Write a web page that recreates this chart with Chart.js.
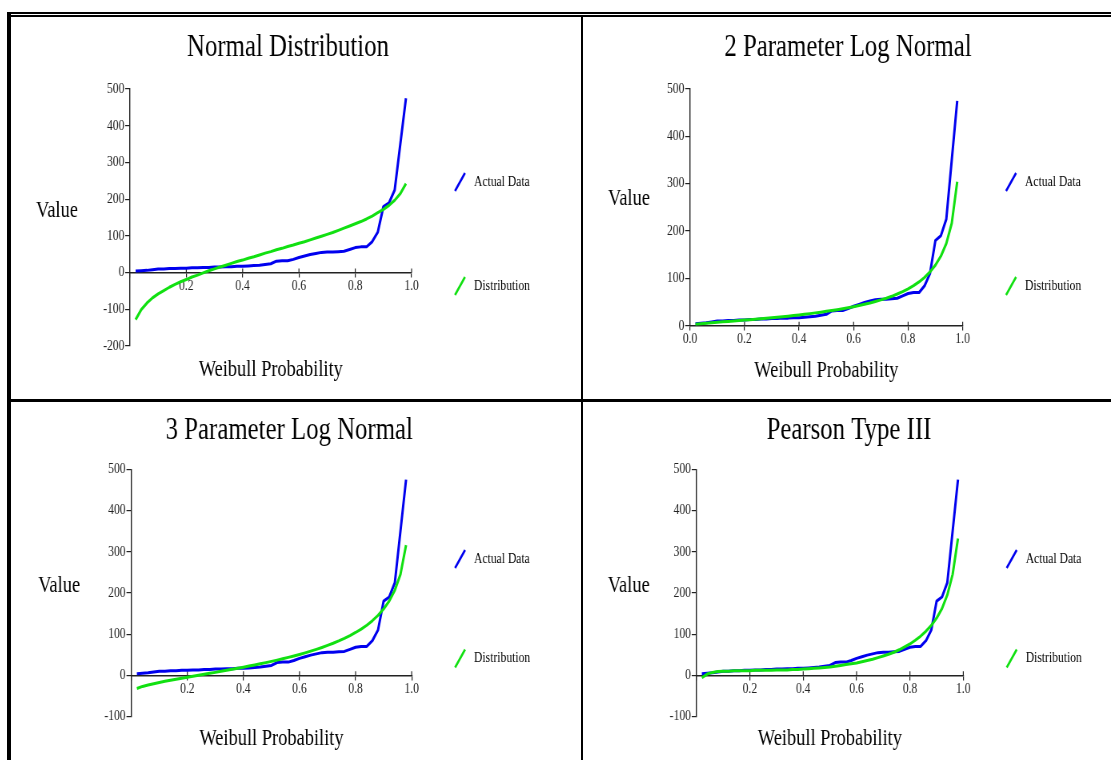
<!DOCTYPE html>
<html>
<head>
<meta charset="utf-8">
<script src="https://cdn.jsdelivr.net/npm/chart.js@4.4.1/dist/chart.umd.min.js"></script>
<style>
  html, body { margin: 0; padding: 0; background: #fff; width: 1111px; height: 760px; overflow: hidden; }
  .panel { position: absolute; overflow: hidden; }
  /* the charts are drawn wide and squeezed, the original was a narrowed image */
  .panel canvas { position: absolute; left: 0; top: 0; transform: scaleX(0.8); transform-origin: 0 0; }
  .rule { position: absolute; background: #000; z-index: 2; }
</style>
</head>
<body>
<div class="rule" style="left:7px;top:12px;width:1104px;height:2px"></div>
<div class="rule" style="left:7px;top:15px;width:1104px;height:2px"></div>
<div class="rule" style="left:7px;top:12px;width:4px;height:748px"></div>
<div class="rule" style="left:580.7px;top:17px;width:2.6px;height:743px"></div>
<div class="rule" style="left:11px;top:399.3px;width:1100px;height:2.4px"></div>

<div class="panel" style="left:10px;top:17px;width:571px;height:382px"><canvas id="normal" width="714" height="382"></canvas></div>
<div class="panel" style="left:583px;top:17px;width:528px;height:382px"><canvas id="logn2" width="660" height="382"></canvas></div>
<div class="panel" style="left:10px;top:401px;width:571px;height:359px"><canvas id="logn3" width="714" height="359"></canvas></div>
<div class="panel" style="left:583px;top:401px;width:528px;height:359px"><canvas id="pearson" width="660" height="359"></canvas></div>

<script>
// Weibull plotting positions i/(n+1), n = 49
var probs = [0.02, 0.04, 0.06, 0.08, 0.10, 0.12, 0.14, 0.16, 0.18, 0.20,
             0.22, 0.24, 0.26, 0.28, 0.30, 0.32, 0.34, 0.36, 0.38, 0.40,
             0.42, 0.44, 0.46, 0.48, 0.50, 0.52, 0.54, 0.56, 0.58, 0.60,
             0.62, 0.64, 0.66, 0.68, 0.70, 0.72, 0.74, 0.76, 0.78, 0.80,
             0.82, 0.84, 0.86, 0.88, 0.90, 0.92, 0.94, 0.96, 0.98];

var actualData = [4, 5, 6, 8, 10, 10, 11, 11, 12, 12,
                  13, 13, 14, 14, 15, 15, 16, 16, 17, 17,
                  18, 19, 20, 22, 24, 31, 32, 32, 36, 41,
                  45, 49, 52, 55, 56, 56, 57, 58, 63, 68,
                  70, 70, 84, 110, 180, 190, 225, 350, 475];

var normalDist = [-128, -101, -83, -69, -58, -49, -40, -32, -25, -19,
                  -12, -7, -1, 5, 10, 15, 20, 25, 30, 34,
                  39, 43, 48, 53, 57, 62, 66, 71, 75, 80,
                  84, 89, 94, 99, 104, 109, 115, 121, 127, 133,
                  139, 146, 154, 163, 172, 183, 197, 215, 242];

var logNormal2 = [3, 4.2, 5.3, 6.2, 7.2, 8.1, 9, 9.9, 10.8, 11.8,
                  12.7, 13.7, 14.7, 15.7, 16.8, 17.9, 19, 20.2, 21.5, 22.8,
                  24.1, 25.5, 27.1, 28.6, 30.3, 32, 33.9, 35.9, 38, 40.2,
                  42.6, 45.3, 48.1, 51.3, 54.5, 58.1, 62.1, 66.9, 72.1, 77.9,
                  84.6, 92.5, 101.9, 113.4, 127.9, 146.8, 173.8, 216.6, 304];

var logNormal3 = [-32, -27, -23.5, -20.3, -17.4, -14.7, -12.1, -9.6, -7.1, -4.8,
                  -2.4, 0, 2.4, 4.8, 7.1, 9.6, 12.1, 14.6, 17.1, 19.7,
                  22.4, 25.1, 27.9, 30.8, 33.8, 36.8, 40.1, 43.5, 47, 50.6,
                  54.5, 58.6, 62.9, 67.6, 72.5, 77.7, 83.4, 89.6, 96.3, 103.9,
                  112.2, 121.6, 132.6, 145.4, 161, 180.3, 206.5, 244.8, 316];

var pearson3 = [-6, 3, 7, 9, 10, 10, 11, 11, 11, 11,
                12, 12, 12, 12, 13, 13, 13, 14, 14, 15,
                16, 17, 18, 19, 20, 22, 24, 26, 28, 30,
                33, 36, 39, 43, 47, 51, 56, 62, 69, 76,
                85, 95, 107, 121, 139, 162, 195, 245, 332];

var serif = "'Liberation Serif', 'Times New Roman', serif";
var axisColor = '#222';
var blue = '#0000ee';
var green = '#11e011';

// "Value" label, slanted legend marks and the upper half of the x ticks
var panelDecor = {
  id: 'panelDecor',
  beforeDatasetsDraw(chart) {
    var xs = chart.scales.x, ys = chart.scales.y, ctx = chart.ctx;
    var y0 = ys.getPixelForValue(0);
    ctx.save();
    ctx.strokeStyle = axisColor;
    ctx.lineWidth = 1.2;
    xs.ticks.forEach(function(t) {
      if (t.value === 0) return;
      var px = xs.getPixelForValue(t.value);
      ctx.beginPath();
      ctx.moveTo(px, y0 - 4);
      ctx.lineTo(px, y0);
      ctx.stroke();
    });
    ctx.restore();
  },
  afterDraw(chart, args, opts) {
    var ctx = chart.ctx, area = chart.chartArea;
    ctx.save();
    ctx.fillStyle = '#000';
    ctx.textBaseline = 'middle';
    ctx.textAlign = 'center';
    ctx.font = '23px ' + serif;
    ctx.fillText(opts.yLabel, opts.yLabelX, opts.yLabelY);

    ctx.textAlign = 'left';
    ctx.font = '14.5px ' + serif;
    chart.data.datasets.forEach(function(ds, i) {
      var cy = opts.legendY[i];
      var cx = area.right + 60.5;
      ctx.strokeStyle = ds.borderColor;
      ctx.lineWidth = 2.6;
      ctx.beginPath();
      ctx.moveTo(cx - 6.25, cy + 9);
      ctx.lineTo(cx + 6.25, cy - 9);
      ctx.stroke();
      ctx.fillText(ds.label, area.right + 78, cy);
    });
    ctx.restore();
  }
};

function makePanel(id, p) {
  var tickFont = { family: serif, size: 14.5 };
  return new Chart(document.getElementById(id), {
    type: 'line',
    data: {
      datasets: [
        { label: 'Actual Data', data: probs.map(function(x, i) { return { x: x, y: actualData[i] }; }),
          borderColor: blue, order: 1 },
        { label: 'Distribution', data: probs.map(function(x, i) { return { x: x, y: p.fit[i] }; }),
          borderColor: green, order: 0 }
      ]
    },
    options: {
      responsive: false,
      animation: false,
      devicePixelRatio: 1,
      datasets: { line: { borderWidth: 3, pointRadius: 0, tension: 0, borderJoinStyle: 'round', fill: false } },
      layout: { padding: { left: p.padL, right: p.padR, top: 0, bottom: 0 } },
      plugins: {
        legend: { display: false },
        tooltip: { enabled: false },
        title: {
          display: true, text: p.title, color: '#000',
          font: { family: serif, size: 31, weight: 'normal' },
          padding: { top: p.titleTop, bottom: p.titleBottom }
        },
        panelDecor: { yLabel: 'Value', yLabelX: p.valueX, yLabelY: p.valueY, legendY: p.legendY }
      },
      scales: {
        x: {
          type: 'linear', position: { y: 0 }, min: 0, max: 1,
          ticks: {
            stepSize: 0.2, autoSkip: false, maxRotation: 0, padding: 1, color: axisColor, font: tickFont,
            callback: function(v) { return (v === 0 && p.hideZero) ? '' : v.toFixed(1); }
          },
          grid: { drawOnChartArea: false, tickLength: 4, color: axisColor, lineWidth: 1.2 },
          border: { color: axisColor, width: 1.4 },
          afterFit: function(s) { s.paddingLeft = 0; s.paddingRight = 0; }
        },
        x2: {
          type: 'linear', position: 'bottom', min: 0, max: 1,
          ticks: { display: false },
          grid: { display: false, drawTicks: false },
          border: { display: false },
          title: {
            display: true, text: 'Weibull Probability', color: '#000',
            font: { family: serif, size: 23 },
            padding: { top: 0, bottom: p.xTitleBottom }
          },
          afterFit: function(s) { s.height = p.x2Height; }
        },
        y: {
          type: 'linear', position: 'left', min: p.yMin, max: 500,
          ticks: { stepSize: 100, padding: 1, color: axisColor, font: tickFont },
          grid: { drawOnChartArea: false, tickLength: 6, color: axisColor, lineWidth: 1.2 },
          border: { color: axisColor, width: 1.4 },
          afterFit: function(s) { s.width = p.yWidth; }
        },
        y2: {
          type: 'linear', position: 'right',
          ticks: { display: false },
          grid: { display: false, drawTicks: false },
          border: { display: false },
          afterFit: function(s) { s.width = p.y2Width; }
        }
      }
    },
    plugins: [panelDecor]
  });
}

makePanel('normal', {
  title: 'Normal Distribution', fit: normalDist, yMin: -200, hideZero: true,
  padL: 0, padR: 19, yWidth: 150, y2Width: 193,
  titleTop: 12.5, titleBottom: 22.3, x2Height: 53, xTitleBottom: 15,
  valueX: 58.75, valueY: 193.5, legendY: [165, 269]
});

makePanel('logn2', {
  title: '2 Parameter Log Normal', fit: logNormal2, yMin: 0, hideZero: false,
  padL: 2.5, padR: 0, yWidth: 131.25, y2Width: 185.4,
  titleTop: 12.5, titleBottom: 22.3, x2Height: 73.3, xTitleBottom: 14,
  valueX: 57.5, valueY: 182, legendY: [165, 269]
});

makePanel('logn3', {
  title: '3 Parameter Log Normal', fit: logNormal3, yMin: -100, hideZero: true,
  padL: 0, padR: 15.8, yWidth: 151.6, y2Width: 196.1,
  titleTop: 11.5, titleBottom: 19.6, x2Height: 43.5, xTitleBottom: 6.8,
  valueX: 61.4, valueY: 184.5, legendY: [158, 257.5]
});

makePanel('pearson', {
  title: 'Pearson Type III', fit: pearson3, yMin: -100, hideZero: true,
  padL: 5, padR: 0, yWidth: 136.9, y2Width: 184.6,
  titleTop: 11.5, titleBottom: 19.6, x2Height: 43.5, xTitleBottom: 6.8,
  valueX: 57.2, valueY: 184.5, legendY: [158, 257.5]
});
</script>
</body>
</html>
